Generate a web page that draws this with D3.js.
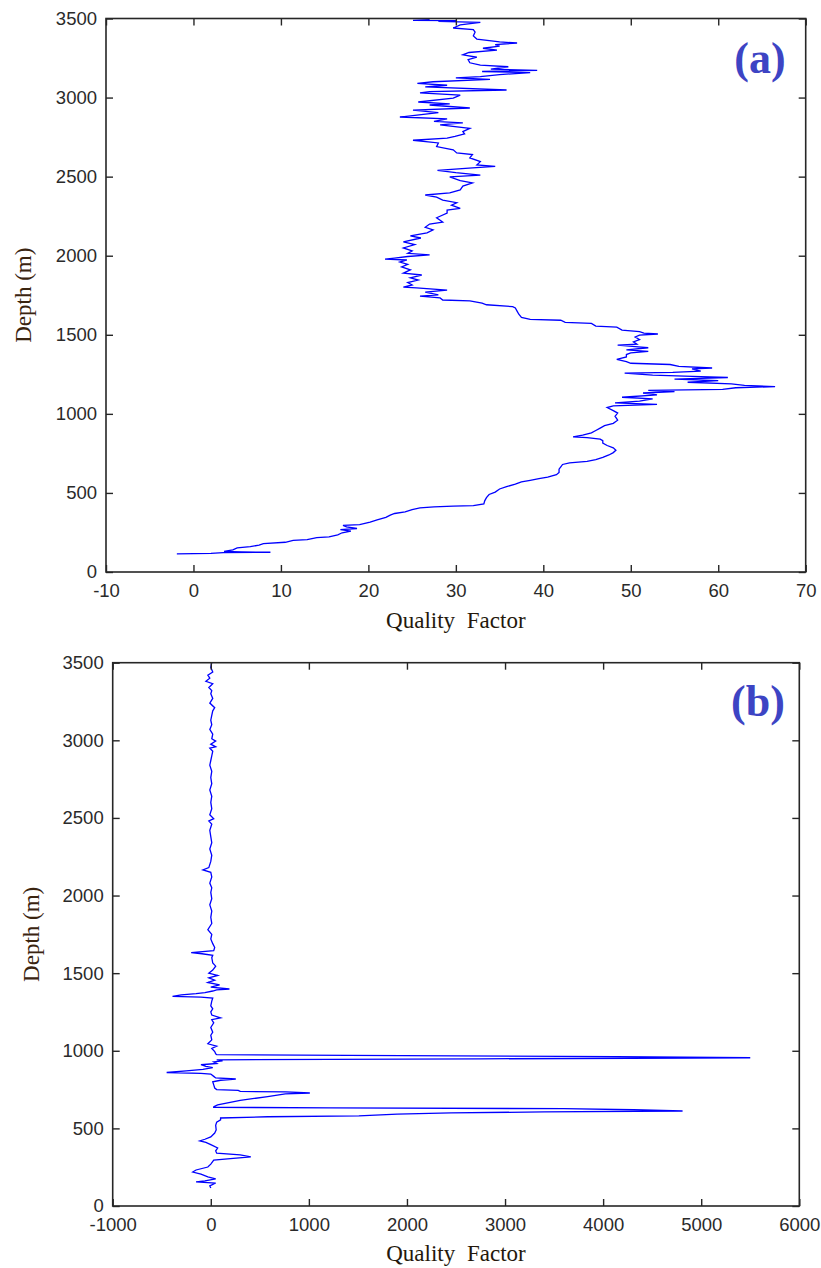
<!DOCTYPE html>
<html><head><meta charset="utf-8">
<script src="https://cdn.jsdelivr.net/npm/d3@7"></script>
<style>
html,body{margin:0;padding:0;background:#fff;}
svg{display:block;}
</style></head>
<body>
<svg id="chart" width="821" height="1268"></svg>
<script>
// ---------- DATA ----------
const depthTicks = [0, 500, 1000, 1500, 2000, 2500, 3000, 3500];
const qTicksA = [-10, 0, 10, 20, 30, 40, 50, 60, 70];
const qTicksB = [-1000, 0, 1000, 2000, 3000, 4000, 5000, 6000];
const panelLabels = ["(a)", "(b)"];
const xTitle = "Quality Factor";
const yTitle = "Depth (m)";

const depthA = [3492,3488,3486,3482,3475,3460,3440,3430,3414,3390,3370,3352,3345,3335,3325,3312,3300,3285,3270,3255,3240,3220,3205,3195,3180,3172,3165,3158,3145,3132,3124,3115,3100,3090,3078,3068,3048,3038,3030,3016,2997,2972,2960,2953,2934,2920,2905,2877,2865,2850,2840,2827,2805,2785,2770,2755,2744,2730,2713,2690,2670,2650,2640,2618,2595,2574,2565,2555,2540,2525,2510,2498,2475,2460,2440,2416,2397,2384,2370,2352,2335,2320,2300,2289,2270,2240,2213,2200,2180,2163,2144,2125,2112,2087,2070,2049,2030,2015,2005,1995,1985,1978,1973,1960,1945,1929,1910,1890,1878,1860,1846,1830,1815,1802,1796,1783,1770,1752,1745,1733,1720,1715,1700,1690,1678,1670,1650,1630,1610,1598,1592,1578,1572,1555,1548,1530,1520,1510,1505,1498,1486,1470,1455,1440,1435,1425,1418,1405,1395,1385,1375,1360,1345,1330,1320,1312,1300,1290,1285,1270,1262,1258,1245,1235,1230,1220,1210,1200,1190,1180,1172,1165,1155,1148,1140,1132,1120,1105,1095,1080,1070,1060,1050,1040,1020,1005,985,960,940,925,910,895,880,865,855,850,840,830,815,800,785,770,755,740,725,710,700,690,680,665,650,630,615,600,590,580,570,555,540,525,505,490,470,450,430,420,417,412,405,395,380,370,360,345,330,315,300,295,285,275,268,258,248,235,222,218,205,200,188,180,170,160,152,140,130,127,125,122,118,114];
const qA = [27.0,25.1,30.1,28.0,32.8,30.5,29.7,32.0,32.2,32.0,32.4,35.0,37.0,34.5,35.0,33.1,34.7,31.5,30.8,32.4,31.4,31.6,32.8,36.0,34.0,39.3,33.0,38.5,35.0,32.8,30.0,33.9,27.4,25.6,29.0,26.5,35.8,27.0,25.9,30.5,29.7,25.7,29.3,27.0,31.6,25.1,28.0,23.6,29.0,27.5,30.8,28.2,31.6,30.8,31.0,29.9,29.0,25.1,28.0,27.8,29.7,30.1,31.9,31.6,32.8,32.4,34.5,31.9,27.9,30.0,32.8,29.3,30.5,31.9,30.8,30.5,29.3,26.5,27.8,28.5,30.1,29.5,30.5,29.0,29.0,27.8,28.5,27.0,26.5,27.4,26.7,24.8,26.0,24.0,25.3,24.0,25.0,24.5,27.0,24.5,23.0,21.9,24.4,23.6,24.5,23.8,24.8,24.0,26.1,24.8,25.7,24.5,25.0,24.0,25.5,29.0,26.5,28.0,25.9,28.2,28.5,31.6,33.0,33.5,36.5,36.8,37.0,37.2,37.5,38.5,42.0,42.5,45.5,46.0,48.4,49.0,51.0,51.5,53.1,51.0,50.5,51.0,50.3,50.7,48.5,50.5,52.0,49.5,52.0,50.0,49.5,49.5,48.4,49.5,50.0,54.5,55.5,59.3,57.0,58.0,54.8,49.3,52.5,58.0,61.1,55.0,60.0,56.5,61.5,63.0,66.5,62.0,60.5,52.0,55.0,51.4,53.0,49.0,52.5,51.0,48.2,53.0,48.0,47.3,48.0,48.5,48.2,48.5,48.0,47.0,46.5,46.0,45.5,44.5,43.4,45.0,46.5,46.8,46.8,47.3,48.0,48.3,48.0,47.5,46.8,46.0,45.0,43.0,42.2,42.0,41.8,41.8,41.5,40.5,39.5,38.5,37.5,36.8,35.8,35.0,34.5,33.8,33.5,33.3,33.2,32.0,29.7,27.5,25.9,25.0,24.2,23.0,22.5,22.0,21.0,20.2,19.0,17.1,17.5,18.7,16.8,18.0,17.0,16.5,15.5,14.1,13.0,11.4,10.5,8.0,7.5,6.5,5.0,4.5,3.5,5.5,8.8,3.4,2.0,-1.9];

const depthB = [3500,3470,3440,3420,3400,3380,3365,3340,3320,3300,3270,3240,3210,3190,3160,3130,3100,3070,3040,3010,2995,2975,2958,2950,2930,2900,2870,2840,2800,2760,2720,2680,2640,2600,2560,2520,2495,2480,2460,2420,2380,2340,2300,2260,2220,2180,2165,2150,2120,2080,2050,2020,1980,1940,1900,1860,1820,1780,1750,1720,1690,1665,1645,1632,1625,1615,1600,1565,1545,1520,1500,1485,1470,1455,1440,1425,1410,1398,1392,1385,1375,1368,1360,1350,1345,1340,1320,1290,1270,1250,1230,1212,1200,1180,1150,1120,1100,1070,1045,1030,1015,995,980,975,970,962,955,948,942,935,928,918,910,900,892,880,870,860,855,850,835,825,818,810,800,780,760,750,745,738,735,728,722,705,680,651,640,636,632,627,620,612,606,600,592,580,575,567,555,540,520,490,470,445,430,419,410,395,374,355,340,329,316,305,296,270,251,232,219,205,187,175,162,155,148,130,116];
const qB = [10,0,20,-30,-10,-50,20,-20,10,0,20,-10,40,20,10,0,10,-10,20,10,50,0,50,-10,20,10,0,-10,10,0,10,-10,10,0,10,-10,30,-20,10,-10,0,10,-10,10,0,-20,-80,0,10,-10,10,0,10,-10,10,0,10,-30,10,0,20,40,30,-200,-90,20,10,20,50,20,-20,70,-20,40,-30,90,0,190,60,20,-60,-150,-300,-390,-100,20,10,0,20,0,10,100,10,30,0,20,0,10,-30,60,10,40,50,60,1400,4130,5500,2750,60,120,30,60,-100,-50,20,-80,-250,-450,-100,0,30,50,255,100,20,30,40,60,280,300,765,1010,760,580,300,70,31,30,1223,3600,4310,4810,3400,2450,1900,1510,580,100,100,60,50,55,40,0,-60,-112,-50,0,70,50,60,300,408,200,30,0,-30,-150,-184,-100,-30,50,-60,-150,50,-10,0];

// ---------- DRAW ----------
const svg = d3.select("#chart");
svg.append("rect").attr("width", 821).attr("height", 1268).attr("fill", "#fff");

const panels = [
  {depth: depthA, q: qA, qTicks: qTicksA, xd: [-10, 70], x0: 106, x1: 805.7, y0: 572, y1: 18.5,
   label: panelLabels[0], labelX: 760, labelY: 73, yTitleX: 31, xTitleY: 628},
  {depth: depthB, q: qB, qTicks: qTicksB, xd: [-1000, 6000], x0: 112.7, x1: 799.3, y0: 1206, y1: 662.7,
   label: panelLabels[1], labelX: 758, labelY: 716, yTitleX: 39, xTitleY: 1261}
];

const axisColor = "#262626";
const tickFont = "'Liberation Sans', Arial, sans-serif";
const serif = "'Liberation Serif', 'Times New Roman', serif";
const fmt = d => String(d);

panels.forEach(p => {
  const x = d3.scaleLinear().domain(p.xd).range([p.x0, p.x1]);
  const y = d3.scaleLinear().domain([0, 3500]).range([p.y0, p.y1]);
  const g = svg.append("g");

  const line = d3.line()
    .x((d, i) => x(p.q[i]))
    .y((d, i) => y(p.depth[i]));
  g.append("path")
    .datum(p.depth)
    .attr("d", line)
    .attr("fill", "none")
    .attr("stroke", "#0000ff")
    .attr("stroke-width", 1.3);

  const styleAxis = (sel) => {
    sel.select(".domain").remove();
    sel.selectAll(".tick line").attr("stroke", axisColor).attr("stroke-width", 1.4);
    sel.selectAll(".tick text").attr("fill", "#2a2a2a")
      .style("font-family", tickFont).style("font-size", "18.5px");
  };
  g.append("g").attr("transform", `translate(0,${p.y0})`)
    .call(d3.axisBottom(x).tickValues(p.qTicks).tickSizeInner(-7).tickSizeOuter(0).tickPadding(12).tickFormat(fmt))
    .call(styleAxis);
  g.append("g").attr("transform", `translate(0,${p.y1})`)
    .call(d3.axisTop(x).tickValues(p.qTicks).tickSizeInner(-7).tickSizeOuter(0).tickFormat(""))
    .call(styleAxis);
  g.append("g").attr("transform", `translate(${p.x0},0)`)
    .call(d3.axisLeft(y).tickValues(depthTicks).tickSizeInner(-7).tickSizeOuter(0).tickPadding(9).tickFormat(fmt))
    .call(styleAxis);
  g.append("g").attr("transform", `translate(${p.x1},0)`)
    .call(d3.axisRight(y).tickValues(depthTicks).tickSizeInner(-7).tickSizeOuter(0).tickFormat(""))
    .call(styleAxis);

  g.append("rect")
    .attr("x", p.x0).attr("y", p.y1)
    .attr("width", p.x1 - p.x0).attr("height", p.y0 - p.y1)
    .attr("fill", "none").attr("stroke", axisColor).attr("stroke-width", 1.6);

  g.append("text")
    .attr("x", (p.x0 + p.x1) / 2).attr("y", p.xTitleY)
    .attr("text-anchor", "middle")
    .style("font-family", serif).style("font-size", "23px").style("word-spacing", "6px")
    .attr("fill", "#24180c")
    .text(xTitle);
  g.append("text")
    .attr("transform", `translate(${p.yTitleX},${(p.y0 + p.y1) / 2}) rotate(-90)`)
    .attr("text-anchor", "middle")
    .style("font-family", serif).style("font-size", "23px")
    .attr("fill", "#3a2410")
    .text(yTitle);

  g.append("text")
    .attr("x", p.labelX).attr("y", p.labelY)
    .attr("text-anchor", "middle")
    .style("font-family", serif).style("font-size", "44px").style("font-weight", "bold")
    .attr("fill", "#3d44c4")
    .text(p.label);
});
</script>
</body></html>
